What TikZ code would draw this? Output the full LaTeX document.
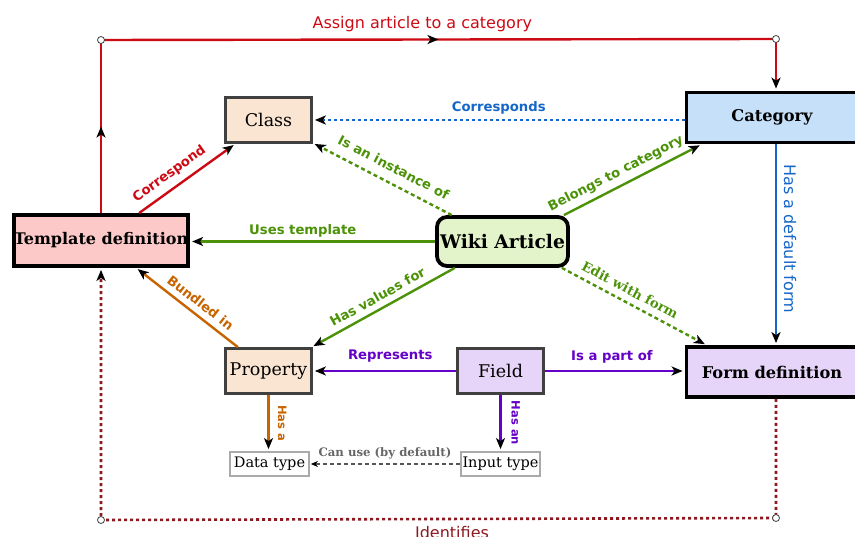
\documentclass[tikz,border=0pt]{standalone}
\usepackage{fontspec}
\setmainfont{DejaVu Serif}
\setsansfont{DejaVu Sans}
\usetikzlibrary{arrows.meta, decorations.markings}

\definecolor{assignred}{HTML}{CC0A14}
\definecolor{identred}{HTML}{8C1820}
\definecolor{linkblue}{HTML}{1466C8}
\definecolor{linkgreen}{HTML}{4C9208}
\definecolor{linkorange}{HTML}{C86400}
\definecolor{linkpurple}{HTML}{6400C8}
\definecolor{linkgray}{HTML}{555555}
\definecolor{boxgray}{HTML}{404040}
\definecolor{typegray}{HTML}{AAAAAA}
\definecolor{classfill}{HTML}{FAE5D3}
\definecolor{catfill}{HTML}{C6E0FA}
\definecolor{tplfill}{HTML}{FCC8C8}
\definecolor{wikifill}{HTML}{E3F4CA}
\definecolor{fieldfill}{HTML}{E6D5F8}

\tikzset{
    box/.style = {draw, rectangle, inner sep = 1pt},
    mainbox/.style = {box, line width = 3.8pt, minimum width = 171pt, minimum height = 50pt, font = \bfseries\fontsize{16.2}{19}\selectfont},
    subbox/.style = {box, line width = 2.8pt, draw = boxgray, minimum width = 86pt, minimum height = 45pt, font = \fontsize{17.5}{21}\selectfont},
    typebox/.style = {box, line width = 1.8pt, draw = typegray, fill = white, minimum width = 79pt, minimum height = 24pt, font = \fontsize{14.5}{17}\selectfont},
    link/.style = {line width = 2.4pt, shorten > = 2pt, -{Stealth[black, length = 11pt, width = 9pt, inset = 3pt]}},
    midarrow/.style = {postaction = {decorate}, decoration = {markings, mark = at position 0.5 with {\arrow{Stealth[black, length = 11pt, width = 9pt, inset = 3pt]}}}},
    dotline/.style = {dash pattern = on 3pt off 3pt},
    dashline/.style = {dash pattern = on 4pt off 3pt},
    lbl/.style = {font = \sffamily\bfseries\fontsize{13.2}{15}\selectfont},
    bigtext/.style = {font = \sffamily\fontsize{16}{19}\selectfont},
    smalllbl/.style = {font = \sffamily\bfseries\fontsize{11.5}{14}\selectfont},
    joint/.style = {draw = boxgray, fill = white, line width = 0.8pt}
}

\begin{document}
\begin{tikzpicture}[x = 1pt, y = -1pt]
    \useasboundingbox (0, 0) rectangle (855, 537);
    \clip (0, 0) rectangle (855, 537);

    \node[mainbox, fill = tplfill, minimum width = 174pt, minimum height = 51pt, inner xsep = 0pt, font = \bfseries\fontsize{16}{19}\selectfont] (tpl) at (101, 240.5) {Template definition};
    \node[mainbox, fill = catfill] (cat) at (772, 117.5) {Category};
    \node[mainbox, fill = fieldfill] (form) at (772, 372) {Form definition};
    \node[box, line width = 3.8pt, rounded corners = 10pt, fill = wikifill, minimum width = 131pt, minimum height = 49pt, font = \bfseries\fontsize{18.7}{22}\selectfont] (wiki) at (502.5, 241.5) {Wiki Article};
    \node[subbox, fill = classfill] (class) at (268.5, 120) {Class};
    \node[subbox, fill = classfill] (prop) at (268.5, 371) {Property};
    \node[subbox, fill = fieldfill] (field) at (500.5, 371) {Field};
    \node[typebox] (dtype) at (269.5, 464) {Data type};
    \node[typebox] (itype) at (500.5, 464) {Input type};

    \coordinate (tl) at (101, 40);
    \coordinate (tr) at (776, 39);
    \coordinate (bl) at (101, 520);
    \coordinate (br) at (776, 518);

    \draw[assignred, line width = 2.4pt, midarrow] (tpl.north) -- (tl);
    \draw[assignred, line width = 2.4pt, midarrow] (tl) -- (tr) node[pos = 0.476, above = 3.5pt, bigtext]{Assign article to a category};
    \draw[assignred, link] (tr) -- (tr |- cat.north);
    \draw[assignred, link] (tpl) -- (class) node[pos = 0.4, sloped, above = 3pt, lbl]{Correspond};

    \draw[linkblue, link, dotline] (cat.west |- class) -- (class.east) node[midway, above = 1.5pt, lbl]{Corresponds};
    \draw[linkblue, link] (cat.south -| tr) -- (form.north -| tr) node[pos = 0.47, xshift = 8pt, rotate = -90, anchor = base, bigtext]{Has a default form};

    \draw[linkgreen, link] (wiki.west) -- (tpl.east |- wiki.west) node[pos = 0.54, above, lbl]{Uses template};
    \draw[linkgreen, link, dashline] (wiki) -- (class) node[pos = 0.47, sloped, above = 6pt, lbl]{Is an instance of};
    \draw[linkgreen, link] ([xshift = -6pt]wiki.north east) -- ([xshift = 17pt]cat.south west) node[pos = 0.42, sloped, above = 2pt, lbl]{Belongs to category};
    \draw[linkgreen, link] (wiki) -- (prop) node[midway, sloped, above = 2.5pt, lbl]{Has values for};
    \draw[linkgreen, link, dashline] ([xshift = -8pt]wiki.south east) -- ([xshift = 22pt]form.north west) node[pos = 0.43, sloped, above = 3pt, font = \bfseries\fontsize{13.2}{15}\selectfont]{Edit with form};

    \draw[linkorange, link] (prop) -- (tpl) node[pos = 0.44, sloped, above = 2.5pt, lbl]{Bundled in};
    \draw[linkorange, link] (prop.south) -- (prop.south |- dtype.north) node[midway, xshift = 9.5pt, rotate = -90, anchor = base, smalllbl]{Has a};

    \draw[linkpurple, link] (field.west) -- (prop.east) node[pos = 0.46, above = 4pt, lbl]{Represents};
    \draw[linkpurple, link] (field.east) -- (form.west |- field) node[pos = 0.48, above = 3.5pt, lbl]{Is a part of};
    \draw[linkpurple, link] (field.south) -- (field.south |- itype.north) node[midway, xshift = 11pt, rotate = -90, anchor = base, smalllbl]{Has an};

    \draw[linkgray, line width = 1.5pt, dashline, shorten > = 1pt, -{Stealth[black, length = 7pt, width = 6pt]}] (itype.west) -- (dtype.east) node[midway, above = 0.5pt, text = linkgray!90, font = \bfseries\fontsize{11.7}{14}\selectfont]{Can use (by default)};

    \draw[identred, link, dotline, line width = 2.6pt] (form.south -| br) -- (br) -- (bl) node[pos = 0.48, below = 2.5pt, bigtext]{Identifies} -- (tpl.south);

    \foreach \c in {tl, tr, bl, br}
        \draw[joint] (\c) circle (3.5pt);
\end{tikzpicture}
\end{document}
